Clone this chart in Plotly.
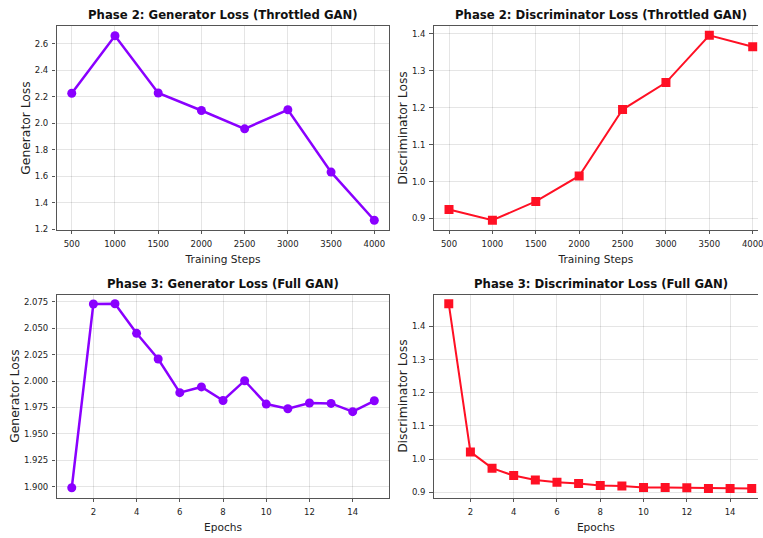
import plotly.graph_objects as go

# ---- data ----
steps = [500, 1000, 1500, 2000, 2500, 3000, 3500, 4000]
p2_gen = [2.227, 2.662, 2.229, 2.097, 1.958, 2.102, 1.631, 1.267]
p2_disc = [0.924, 0.895, 0.946, 1.015, 1.195, 1.268, 1.396, 1.365]
epochs = list(range(1, 16))
p3_gen = [1.899, 2.0729, 2.0731, 2.0451, 2.0208, 1.989, 1.9944, 1.9816,
          2.0003, 1.9782, 1.9738, 1.9792, 1.9788, 1.971, 1.9813]
p3_disc = [1.468, 1.022, 0.973, 0.9506, 0.9375, 0.9307, 0.927, 0.921,
           0.919, 0.915, 0.915, 0.914, 0.912, 0.912, 0.912]

titles = ["Phase 2: Generator Loss (Throttled GAN)",
          "Phase 2: Discriminator Loss (Throttled GAN)",
          "Phase 3: Generator Loss (Full GAN)",
          "Phase 3: Discriminator Loss (Full GAN)"]
step_ticks = [500, 1000, 1500, 2000, 2500, 3000, 3500, 4000]
epoch_ticks = [2, 4, 6, 8, 10, 12, 14]

PURPLE = "#8a00ff"
RED = "#ff1024"
W, H = 763, 538

# pixel geometry of the plot areas
left_x = (57, 392)
right_x = (436.7, 763)
top_y = (26.7, 231.7)
bot_y = (297.3, 502.3)

def xd(px):
    return [px[0] / W, px[1] / W]

def yd(py):
    return [1 - py[1] / H, 1 - py[0] / H]

fig = go.Figure()

fig.add_trace(go.Scatter(x=steps, y=p2_gen, mode="lines+markers",
                         line=dict(color=PURPLE, width=2.5),
                         marker=dict(symbol="circle", size=9, color=PURPLE),
                         xaxis="x", yaxis="y", showlegend=False))
fig.add_trace(go.Scatter(x=steps, y=p2_disc, mode="lines+markers",
                         line=dict(color=RED, width=2),
                         marker=dict(symbol="square", size=9, color=RED),
                         xaxis="x2", yaxis="y2", showlegend=False))
fig.add_trace(go.Scatter(x=epochs, y=p3_gen, mode="lines+markers",
                         line=dict(color=PURPLE, width=2.5),
                         marker=dict(symbol="circle", size=9, color=PURPLE),
                         xaxis="x3", yaxis="y3", showlegend=False))
fig.add_trace(go.Scatter(x=epochs, y=p3_disc, mode="lines+markers",
                         line=dict(color=RED, width=2),
                         marker=dict(symbol="square", size=9, color=RED),
                         xaxis="x4", yaxis="y4", showlegend=False))

FONT = "DejaVu Sans"
tickfont = dict(family=FONT, size=8.5, color="#222")
xtitlefont = dict(family=FONT, size=10.6, color="#222")
ytitlefont = dict(family=FONT, size=12.3, color="#222")
GRID = "rgba(0,0,0,0.10)"
SPINE = "#555"

def xax(domain, rng, ticks, title, anchor):
    return dict(domain=domain, range=rng, tickvals=ticks, anchor=anchor,
                showgrid=True, gridcolor=GRID, gridwidth=1, zeroline=False,
                showline=True, linecolor=SPINE, linewidth=1.3, mirror=True,
                ticks="outside", ticklen=3.5, tickcolor=SPINE, tickwidth=1,
                tickfont=tickfont, ticklabeloverflow="allow",
                ticklabelstandoff=3,
                title=dict(text=title, font=xtitlefont, standoff=7))

def yax(domain, rng, dtick, fmt, title, anchor, mirror=True):
    return dict(domain=domain, range=rng, dtick=dtick, tickformat=fmt,
                anchor=anchor,
                showgrid=True, gridcolor=GRID, gridwidth=1, zeroline=False,
                showline=True, linecolor=SPINE, linewidth=1.3, mirror=mirror,
                ticks="outside", ticklen=3.5, tickcolor=SPINE, tickwidth=1,
                tickfont=tickfont, ticklabelstandoff=2,
                title=dict(text=title, font=ytitlefont, standoff=1))

layout = dict(
    width=W, height=H,
    margin=dict(l=0, r=0, t=0, b=0),
    paper_bgcolor="white", plot_bgcolor="white",
    xaxis=xax(xd(left_x), [325, 4175], step_ticks, "Training Steps", "y"),
    yaxis=yax(yd(top_y), [1.197, 2.732], 0.2, ".1f", "Generator Loss", "x"),
    xaxis2=xax(xd(right_x), [325, 4061], step_ticks, "Training Steps", "y2"),
    yaxis2=yax(yd(top_y), [0.8699, 1.4201], 0.1, ".1f", "Discriminator Loss", "x2", mirror=False),
    xaxis3=xax(xd(left_x), [0.3, 15.7], epoch_ticks, "Epochs", "y3"),
    yaxis3=yax(yd(bot_y), [1.8897, 2.0818], 0.025, ".3f", "Generator Loss", "x3"),
    xaxis4=xax(xd(right_x), [0.31, 15.29], epoch_ticks, "Epochs", "y4"),
    yaxis4=yax(yd(bot_y), [0.8842, 1.4958], 0.1, ".1f", "Discriminator Loss", "x4", mirror=False),
)
fig.update_layout(**layout)

centers = [((left_x[0] + left_x[1]) / 2, top_y[0]),
           ((436.7 + 773) / 2, top_y[0]),
           ((left_x[0] + left_x[1]) / 2, bot_y[0]),
           ((436.7 + 773) / 2, bot_y[0])]
for t, (cx, ty) in zip(titles, centers):
    fig.add_annotation(text="<b>" + t + "</b>", x=cx / W, y=1 - (ty - 2) / H,
                       xref="paper", yref="paper", xanchor="center",
                       yanchor="bottom", showarrow=False,
                       font=dict(family=FONT, size=11.7, color="#111"))

fig.write_html("out.html",
               config={"displayModeBar": False},
               post_script="document.body.style.margin='0';document.body.style.overflow='hidden';")
